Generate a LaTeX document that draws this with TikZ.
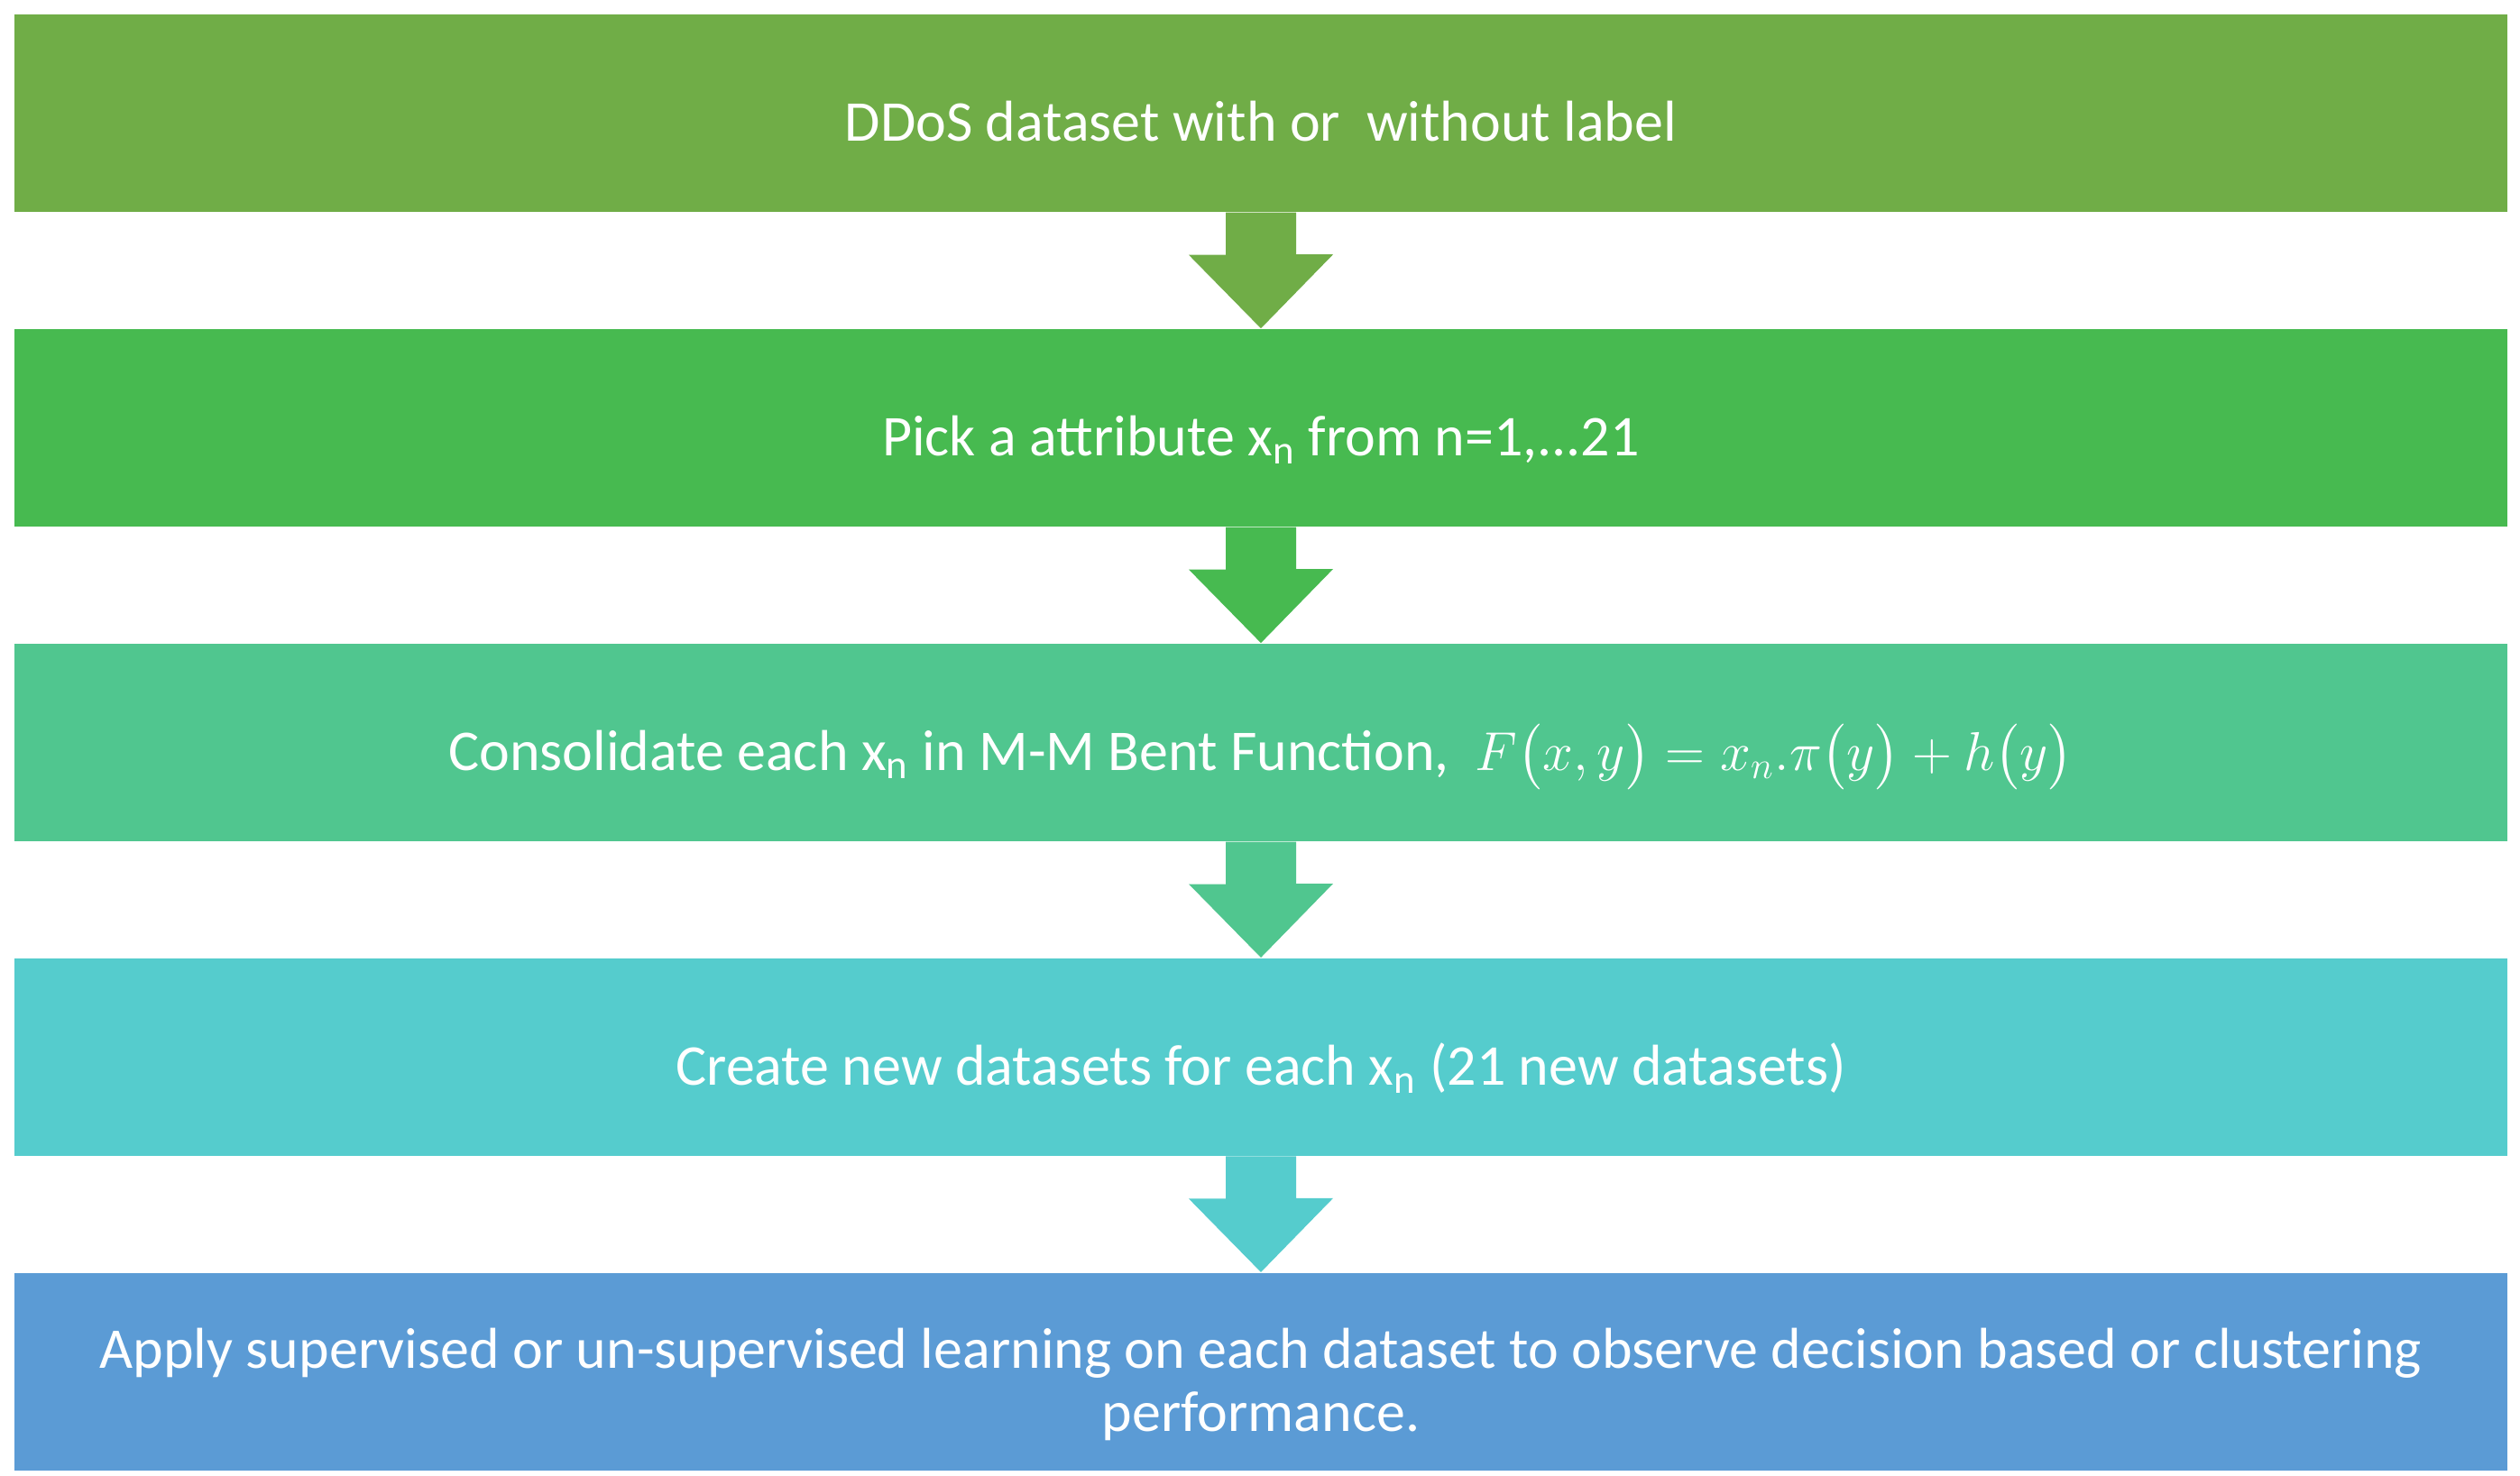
\documentclass[tikz,border=0pt]{standalone}
\usepackage{fontspec}
\setmainfont{Carlito}
\usepackage{amsmath}
\usepackage{tikz}
\usetikzlibrary{positioning}
\definecolor{cOne}{RGB}{112,173,71}
\definecolor{cTwo}{RGB}{71,186,80}
\definecolor{cThree}{RGB}{80,198,143}
\definecolor{cFour}{RGB}{85,204,205}
\definecolor{cFive}{RGB}{91,155,213}
\tikzset{
  stepbox/.style={rectangle, inner sep=0pt, minimum width=27.64cm, minimum height=2.19cm,
    text=white, align=center, font=\fontsize{18.2}{20}\selectfont,
    text height=0.624cm, text depth=0pt},
}
\begin{document}
\begin{tikzpicture}
  \useasboundingbox (0,0) rectangle (27.94,-16.37);
  \node[stepbox, fill=cOne] (s1) at (13.98,-1.255) {DDoS dataset with or\ \ without label};
  \node[stepbox, fill=cTwo, below=1.285cm of s1] (s2) {Pick a attribute x\textsubscript{n} from n=1,...21};
  \node[stepbox, fill=cThree, below=1.285cm of s2] (s3) {Consolidate each x\textsubscript{n} in M-M Bent Function,\ \ $F\bigl(x,y\bigr)=x_n.\pi\bigl(y\bigr)+h\bigl(y\bigr)$};
  \node[stepbox, fill=cFour, below=1.285cm of s3] (s4) {Create new datasets for each x\textsubscript{n} (21 new datasets)};
  \node[stepbox, fill=cFive, below=1.285cm of s4, text height=1.336cm] (s5)
    {Apply supervised or un-supervised learning on each dataset to observe decision based or clustering\\performance.};
  % block arrows between the steps
  \foreach \a/\b/\c in {s1/s2/cOne, s2/s3/cTwo, s3/s4/cThree, s4/s5/cFour}
    \fill[\c] ([xshift=-0.39cm]\a.south) -- ++(0,-0.47) -- ++(-0.41,0) -- (\b.north)
      -- ++(0.80,0.82) -- ++(-0.41,0) -- ([xshift=0.39cm]\a.south) -- cycle;
\end{tikzpicture}
\end{document}
